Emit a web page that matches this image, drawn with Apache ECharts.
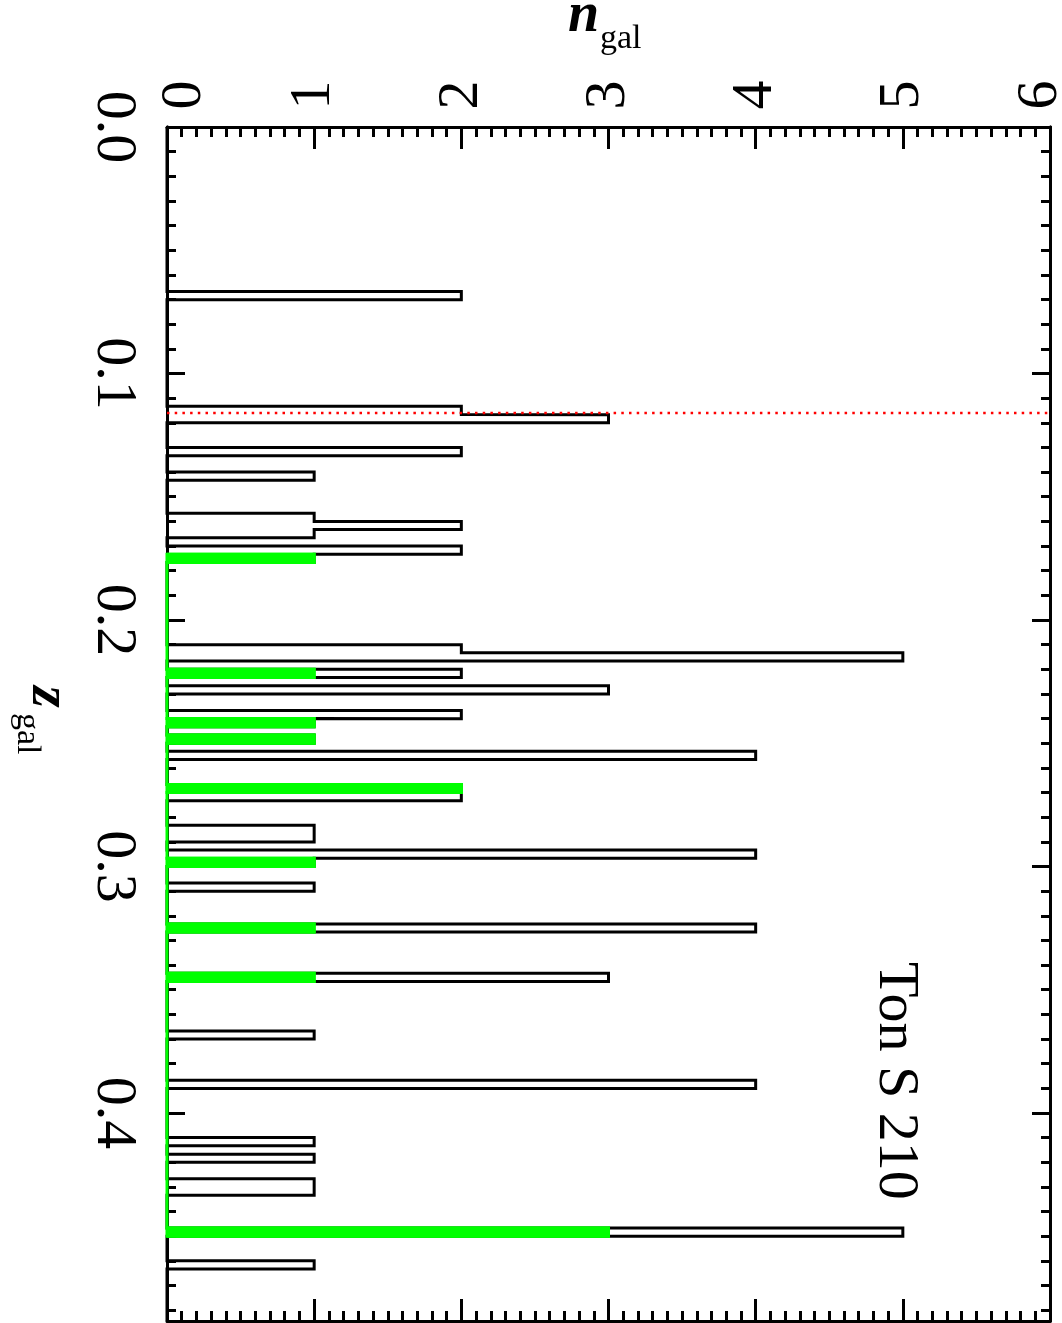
<!DOCTYPE html>
<html><head><meta charset="utf-8">
<script src="https://cdn.jsdelivr.net/npm/echarts@6/dist/echarts.min.js"></script>
<style>html,body{margin:0;padding:0;background:#fff}#c{width:1062px;height:1323px}</style>
</head><body><div id="c"></div>
<script>
// ---- data ----
const binWidth = 1 / 300;                       // redshift bin width
// lower edges (z) of the bins containing galaxies, and counts (all galaxies)
const allZLow = [0.0667, 0.1133, 0.1167, 0.1300, 0.1400, 0.1567, 0.1600, 0.1633, 0.1700, 0.1733,
                 0.2100, 0.2133, 0.2200, 0.2267, 0.2367, 0.2400, 0.2467, 0.2533, 0.2667, 0.2700,
                 0.2833, 0.2867, 0.2933, 0.2967, 0.3067, 0.3233, 0.3433, 0.3667, 0.3867, 0.4100,
                 0.4167, 0.4267, 0.4300, 0.4467, 0.4600];
const allCounts = [2, 2, 3, 2, 1, 1, 2, 1, 2, 1,
                   2, 5, 2, 3, 2, 1, 1, 4, 2, 2,
                   1, 1, 4, 1, 1, 4, 3, 1, 4, 1,
                   1, 1, 1, 5, 1];
// green subset
const greenZLow = [0.1733, 0.2200, 0.2400, 0.2467, 0.2667, 0.2967, 0.3233, 0.3433, 0.4467];
const greenCounts = [1, 1, 1, 1, 2, 1, 1, 1, 3];
const qsoZ = 0.116;          // red dotted line (Ton S 210 redshift)
const zMin = 0, zMax = 0.4844;
const nMin = 0, nMax = 6;
const zMajorTicks = [0.0, 0.1, 0.2, 0.3, 0.4];
const nTickLabels = ['0', '1', '2', '3', '4', '5', '6'];

// build step outline (histogram, psym=10 style) from bins
function stepPath(zLow, counts, zStart, zEnd) {
  const pts = [];
  let last = null;
  if (zStart !== null) { pts.push([0, zStart]); last = zStart; }
  for (let i = 0; i < zLow.length; i++) {
    const z0 = zLow[i], z1 = z0 + binWidth, n = counts[i];
    if (last === null) { pts.push([0, z0]); }
    else if (Math.abs(z0 - last) > binWidth / 2) { pts.push([0, last]); pts.push([0, z0]); }
    pts.push([n, z0]); pts.push([n, z1]);
    last = z1;
  }
  pts.push([0, last]);
  if (zEnd !== null) pts.push([0, zEnd]);
  return pts;
}
const blackPath = stepPath(allZLow, allCounts, zMin, zMax);
const greenPath = stepPath(greenZLow, greenCounts, null, null);
const greenRects = greenZLow.map((z, i) => [greenCounts[i], z]);

const FONT = 'Liberation Serif';
const lineBlack = { color: '#000', width: 3 };

function nAxis(pos, showLabel) {
  return {
    type: 'value', position: pos, min: nMin, max: nMax, interval: 1,
    axisLine: { show: true, onZero: false, lineStyle: lineBlack },
    axisTick: { show: true, inside: true, length: 22, lineStyle: lineBlack },
    minorTick: { show: true, splitNumber: 10, length: 10, lineStyle: lineBlack },
    splitLine: { show: false }, minorSplitLine: { show: false },
    axisLabel: {
      show: showLabel, rotate: -90, align: 'center', verticalAlign: 'middle', margin: 32,
      fontSize: 58, fontFamily: FONT, color: '#000',
      formatter: (v) => {
        const i = Math.round(v);
        const s = nTickLabels[i] || '';
        if (i === 0) return '{first|' + s + '}';
        if (i === nTickLabels.length - 1) return '{last|' + s + '}';
        return s;
      },
      rich: {
        first: { fontSize: 58, fontFamily: FONT, color: '#000', padding: [36, 0, 0, 0] },
        last: { fontSize: 58, fontFamily: FONT, color: '#000', padding: [0, 0, 18, 0] }
      }
    }
  };
}
function zAxis(pos, interval, tickLen, showLabel) {
  return {
    type: 'value', position: pos, inverse: true, min: zMin, max: zMax, interval: interval,
    axisLine: { show: true, onZero: false, lineStyle: lineBlack },
    axisTick: { show: true, inside: true, length: tickLen, lineStyle: lineBlack },
    splitLine: { show: false },
    axisLabel: {
      show: showLabel, rotate: -90, align: 'center', verticalAlign: 'middle', margin: 54,
      fontSize: 58, fontFamily: FONT, color: '#000', showMaxLabel: false,
      formatter: (v) => {
        const m = zMajorTicks.find(t => Math.abs(t - v) < 1e-6);
        return m === undefined ? '' : m.toFixed(1);
      }
    }
  };
}

const chart = echarts.init(document.getElementById('c'), null, { renderer: 'canvas' });
chart.setOption({
  animation: false,
  backgroundColor: '#fff',
  grid: { left: 167, top: 127, width: 883, height: 1194, containLabel: false, outerBoundsMode: 'none' },
  xAxis: [nAxis('top', true), nAxis('bottom', false)],
  yAxis: [zAxis('left', 0.1, 18, true), zAxis('left', 0.01, 9, false),
          zAxis('right', 0.1, 18, false), zAxis('right', 0.01, 9, false)],
  series: [
    { type: 'line', xAxisIndex: 0, yAxisIndex: 0, data: blackPath, showSymbol: false, symbol: 'none',
      clip: false, z: 2, lineStyle: { color: '#000', width: 3, join: 'miter' } },
    { type: 'custom', xAxisIndex: 0, yAxisIndex: 0, data: greenRects, z: 3, clip: false,
      encode: { x: 0, y: 1 },
      renderItem: (params, api) => {
        const n = api.value(0), z0 = api.value(1);
        const p0 = api.coord([0, z0]);
        const p1 = api.coord([n, z0 + binWidth]);
        return { type: 'rect', shape: { x: p0[0], y: p0[1], width: p1[0] - p0[0], height: p1[1] - p0[1] },
                 style: { fill: '#00ff00', stroke: '#00ff00', lineWidth: 3 } };
      } },
    { type: 'line', xAxisIndex: 0, yAxisIndex: 0, data: greenPath, showSymbol: false, symbol: 'none',
      clip: false, z: 3, lineStyle: { color: '#00ff00', width: 3, join: 'miter' } },
    { type: 'line', xAxisIndex: 0, yAxisIndex: 0, data: [[nMin, qsoZ], [nMax, qsoZ]], showSymbol: false,
      symbol: 'none', clip: false, z: 4, lineStyle: { color: '#ff0000', width: 2.5, type: [2.5, 5.2] } }
  ],
  graphic: [
    { type: 'text', x: 568, y: 17, style: { text: 'n', font: 'italic bold 56px "Liberation Serif"', fill: '#000', align: 'left', verticalAlign: 'middle' } },
    { type: 'text', x: 600, y: 39, style: { text: 'gal', font: '34px "Liberation Serif"', fill: '#000', align: 'left', verticalAlign: 'middle' } },
    { type: 'text', x: 47, y: 686, rotation: -Math.PI / 2, style: { text: 'z', font: 'italic bold 56px "Liberation Serif"', fill: '#000', align: 'left', verticalAlign: 'middle' } },
    { type: 'text', x: 27, y: 713, rotation: -Math.PI / 2, style: { text: 'gal', font: '34px "Liberation Serif"', fill: '#000', align: 'left', verticalAlign: 'middle' } },
    { type: 'text', x: 895, y: 962, rotation: -Math.PI / 2, style: { text: 'Ton S 210', font: '58px "Liberation Serif"', fill: '#000', align: 'left', verticalAlign: 'middle' } }
  ]
});
</script></body></html>
